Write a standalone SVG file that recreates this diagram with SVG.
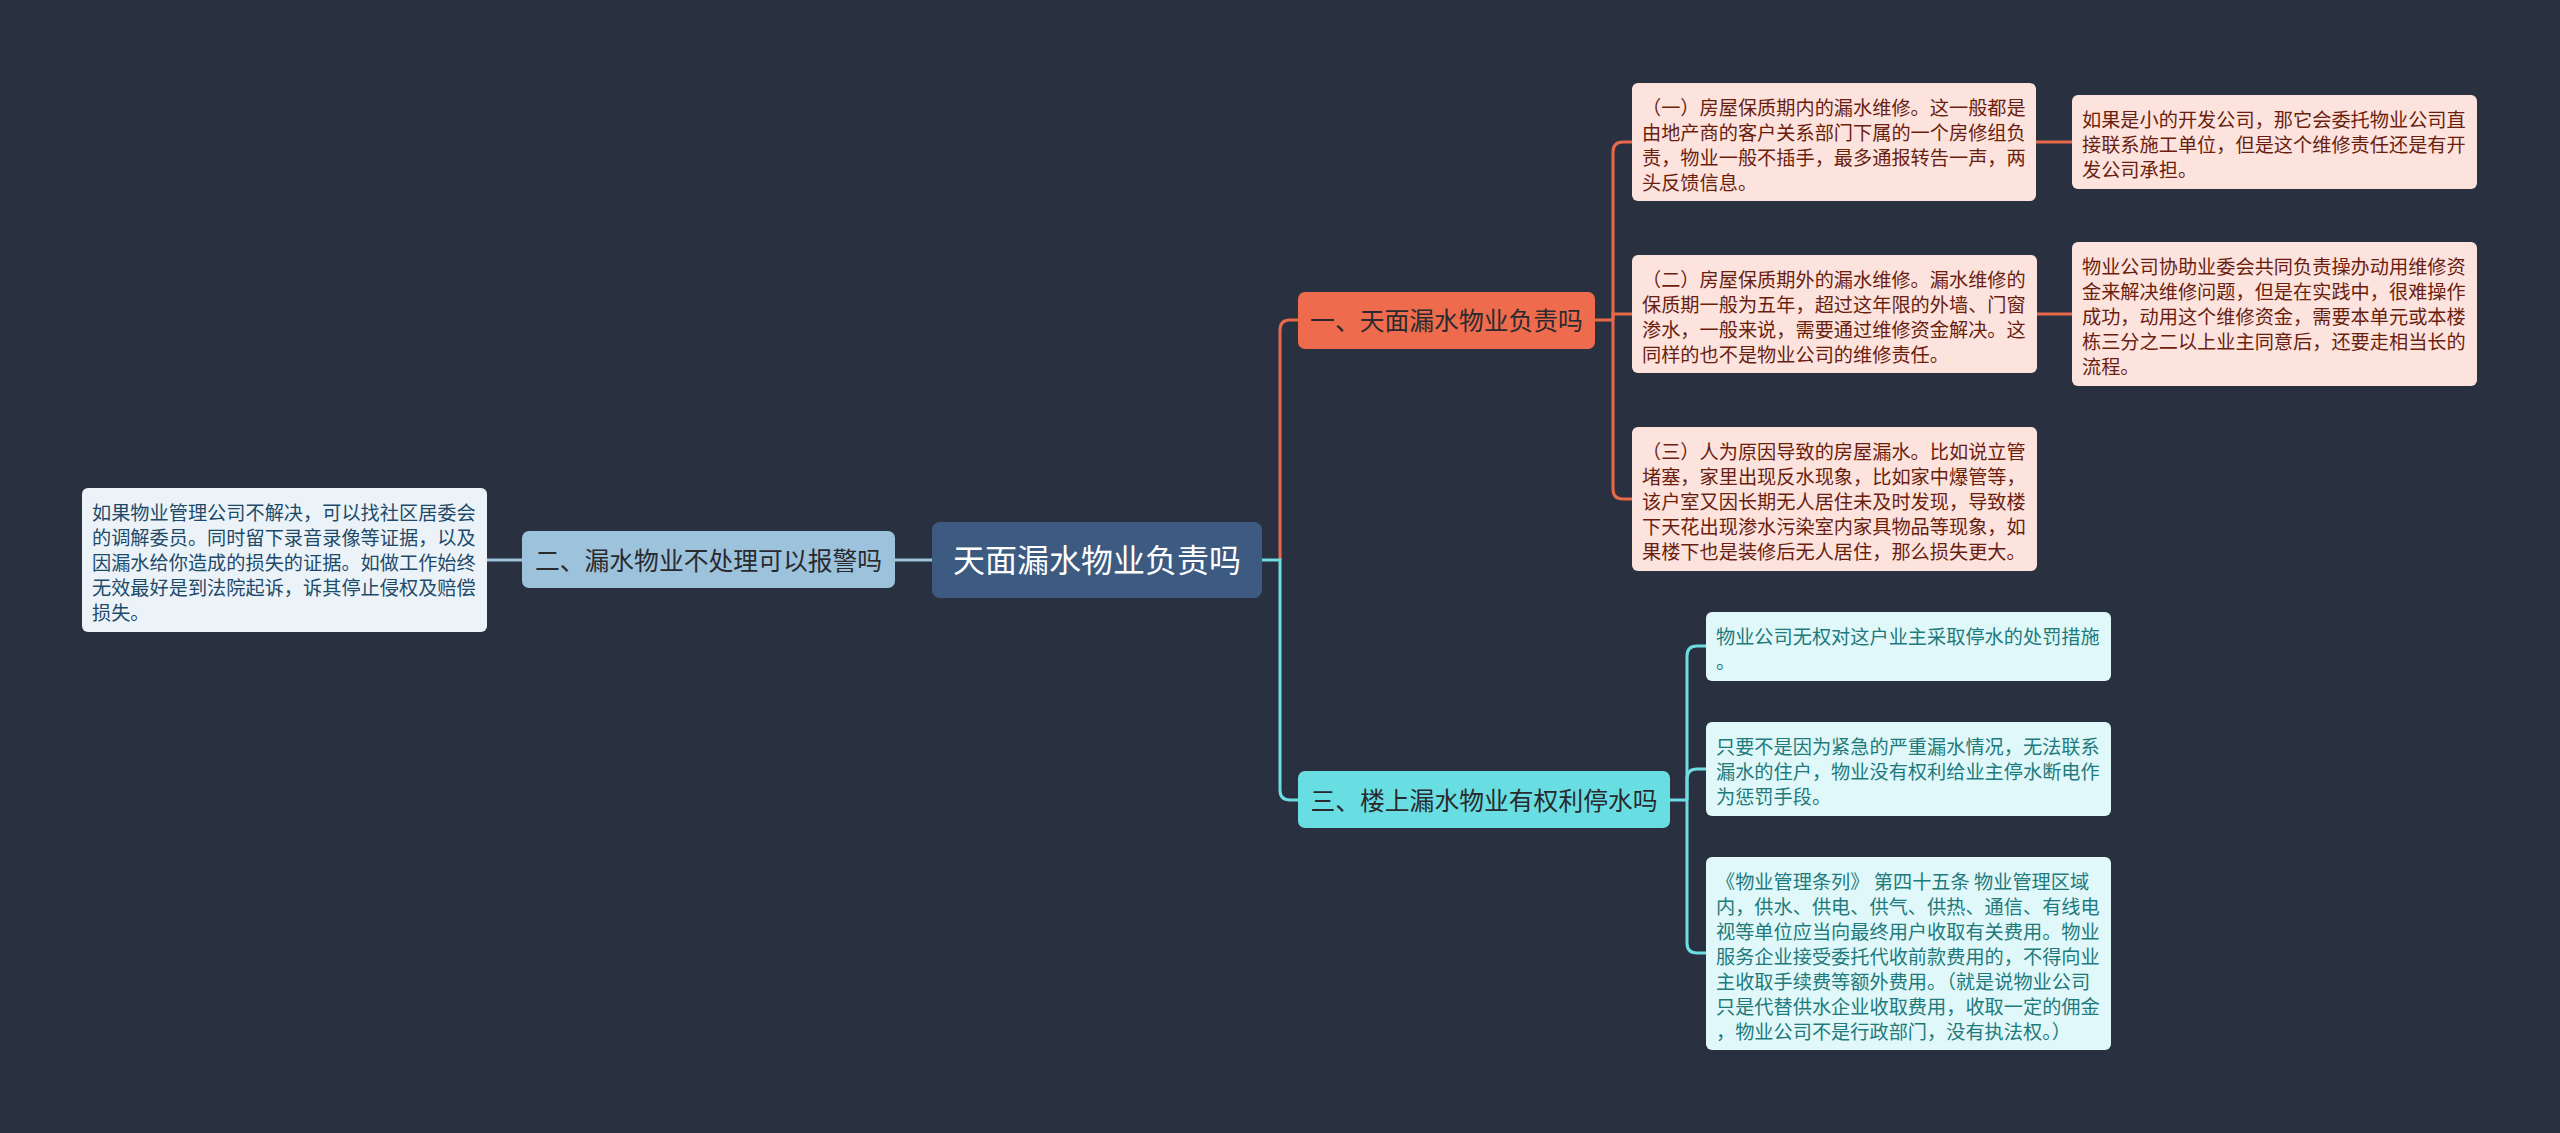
<svg xmlns="http://www.w3.org/2000/svg" width="2560" height="1133" viewBox="0 0 2560 1133">
<style>
text{font-family:"Noto Sans CJK SC","Noto Sans",sans-serif;}
.root{fill:#3D5A80;}
.rootT{fill:#FFFFFF;font-size:32px;text-anchor:middle;}
.b1{fill:#EE6C4D;}
.b2{fill:#9CC2DC;}
.b3{fill:#69DEE2;}
.bT{fill:#2A2A2E;font-size:24.8px;text-anchor:middle;}
.l1{fill:#FDE3DE;}
.l2{fill:#EBF3F9;}
.l3{fill:#E0F8F9;}
.t1{fill:#6A1E0E;font-size:19.2px;}
.t2{fill:#1E4A6A;font-size:19.2px;}
.t3{fill:#1E7A7C;font-size:19.2px;}
.c1{fill:none;stroke:#E8694A;stroke-width:3;}
.c2{fill:none;stroke:#9CC2DC;stroke-width:3;}
.c3{fill:none;stroke:#6DDDE2;stroke-width:3;}
</style>
<rect x="0" y="0" width="2560" height="1133" fill="#293040"/>
<g id="connectors">
<path class="c1" d="M1280,560 V330 Q1280,320 1290,320 H1298"/>
<path class="c3" d="M1262,560 H1280 V790 Q1280,800 1290,800 H1298"/>
<path class="c2" d="M932,560 H895"/>
<path class="c2" d="M522,560 H487"/>
<path class="c1" d="M1595,320 H1613"/>
<path class="c1" d="M1613,320 V152 Q1613,142 1623,142 H1632"/>
<path class="c1" d="M1613,320 V314 H1632"/>
<path class="c1" d="M1613,320 V489 Q1613,499 1623,499 H1632"/>
<path class="c1" d="M2036,142 H2072"/>
<path class="c1" d="M2037,314 H2072"/>
<path class="c3" d="M1670,800 H1687"/>
<path class="c3" d="M1687,800 V656 Q1687,646 1697,646 H1706"/>
<path class="c3" d="M1687,800 V779 Q1687,769 1697,769 H1706"/>
<path class="c3" d="M1687,800 V943 Q1687,953 1697,953 H1706"/>
</g>
<g id="root">
<rect class="root" x="932" y="522" width="330" height="76" rx="8"/>
<text class="rootT" x="1097" y="572">天面漏水物业负责吗</text>
</g>
<g id="branch1">
<rect class="b1" x="1298" y="292" width="297" height="57" rx="7"/>
<text class="bT" x="1446.5" y="329.5">一、天面漏水物业负责吗</text>
</g>
<g id="branch2">
<rect class="b2" x="522" y="531" width="373" height="57" rx="7"/>
<text class="bT" x="708.5" y="569.5">二、漏水物业不处理可以报警吗</text>
</g>
<g id="branch3">
<rect class="b3" x="1298" y="771" width="372" height="57" rx="7"/>
<text class="bT" x="1484" y="809.5">三、楼上漏水物业有权利停水吗</text>
</g>
<g id="leaf1a">
<rect class="l1" x="1632" y="83" width="404" height="118" rx="6"/>
<text class="t1"><tspan x="1642" y="114.5">（一）房屋保质期内的漏水维修。这一般都是</tspan><tspan x="1642" y="139.5">由地产商的客户关系部门下属的一个房修组负</tspan><tspan x="1642" y="164.5">责，物业一般不插手，最多通报转告一声，两</tspan><tspan x="1642" y="189.5">头反馈信息。</tspan></text>
</g>
<g id="leaf1a1">
<rect class="l1" x="2072" y="95" width="405" height="94" rx="6"/>
<text class="t1"><tspan x="2082" y="127">如果是小的开发公司，那它会委托物业公司直</tspan><tspan x="2082" y="152">接联系施工单位，但是这个维修责任还是有开</tspan><tspan x="2082" y="177">发公司承担。</tspan></text>
</g>
<g id="leaf1b">
<rect class="l1" x="1632" y="255" width="405" height="118" rx="6"/>
<text class="t1"><tspan x="1642" y="286.5">（二）房屋保质期外的漏水维修。漏水维修的</tspan><tspan x="1642" y="311.5">保质期一般为五年，超过这年限的外墙、门窗</tspan><tspan x="1642" y="336.5">渗水，一般来说，需要通过维修资金解决。这</tspan><tspan x="1642" y="361.5">同样的也不是物业公司的维修责任。</tspan></text>
</g>
<g id="leaf1b1">
<rect class="l1" x="2072" y="242" width="405" height="144" rx="6"/>
<text class="t1"><tspan x="2082" y="274">物业公司协助业委会共同负责操办动用维修资</tspan><tspan x="2082" y="299">金来解决维修问题，但是在实践中，很难操作</tspan><tspan x="2082" y="324">成功，动用这个维修资金，需要本单元或本楼</tspan><tspan x="2082" y="349">栋三分之二以上业主同意后，还要走相当长的</tspan><tspan x="2082" y="374">流程。</tspan></text>
</g>
<g id="leaf1c">
<rect class="l1" x="1632" y="427" width="405" height="144" rx="6"/>
<text class="t1"><tspan x="1642" y="459">（三）人为原因导致的房屋漏水。比如说立管</tspan><tspan x="1642" y="484">堵塞，家里出现反水现象，比如家中爆管等，</tspan><tspan x="1642" y="509">该户室又因长期无人居住未及时发现，导致楼</tspan><tspan x="1642" y="534">下天花出现渗水污染室内家具物品等现象，如</tspan><tspan x="1642" y="559">果楼下也是装修后无人居住，那么损失更大。</tspan></text>
</g>
<g id="leaf2a">
<rect class="l2" x="82" y="488" width="405" height="144" rx="6"/>
<text class="t2"><tspan x="92" y="520">如果物业管理公司不解决，可以找社区居委会</tspan><tspan x="92" y="545">的调解委员。同时留下录音录像等证据，以及</tspan><tspan x="92" y="570">因漏水给你造成的损失的证据。如做工作始终</tspan><tspan x="92" y="595">无效最好是到法院起诉，诉其停止侵权及赔偿</tspan><tspan x="92" y="620">损失。</tspan></text>
</g>
<g id="leaf3a">
<rect class="l3" x="1706" y="612" width="405" height="69" rx="6"/>
<text class="t3"><tspan x="1716" y="644">物业公司无权对这户业主采取停水的处罚措施</tspan><tspan x="1716" y="669">。</tspan></text>
</g>
<g id="leaf3b">
<rect class="l3" x="1706" y="722" width="405" height="94" rx="6"/>
<text class="t3"><tspan x="1716" y="754">只要不是因为紧急的严重漏水情况，无法联系</tspan><tspan x="1716" y="779">漏水的住户，物业没有权利给业主停水断电作</tspan><tspan x="1716" y="804">为惩罚手段。</tspan></text>
</g>
<g id="leaf3c">
<rect class="l3" x="1706" y="857" width="405" height="193" rx="6"/>
<text class="t3"><tspan x="1716" y="888.5">《物业管理条列》 第四十五条 物业管理区域</tspan><tspan x="1716" y="913.5">内，供水、供电、供气、供热、通信、有线电</tspan><tspan x="1716" y="938.5">视等单位应当向最终用户收取有关费用。物业</tspan><tspan x="1716" y="963.5">服务企业接受委托代收前款费用的，不得向业</tspan><tspan x="1716" y="988.5">主收取手续费等额外费用。（就是说物业公司</tspan><tspan x="1716" y="1013.5">只是代替供水企业收取费用，收取一定的佣金</tspan><tspan x="1716" y="1038.5">，物业公司不是行政部门，没有执法权。）</tspan></text>
</g>
</svg>
